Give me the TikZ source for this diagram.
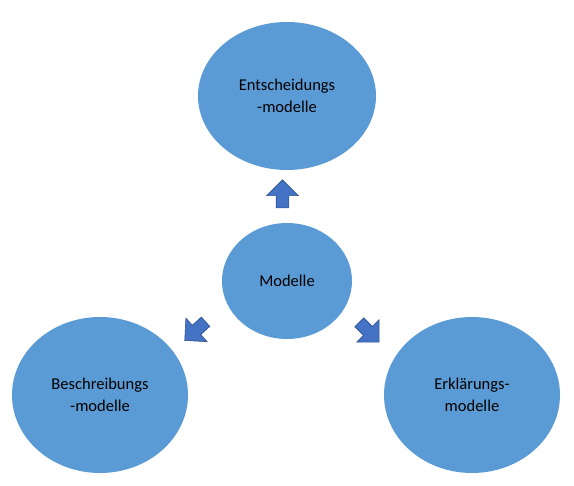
\documentclass[tikz,border=0pt]{standalone}
\usepackage{fontspec}
\setmainfont{Carlito}
\usetikzlibrary{shapes.geometric,shapes.arrows}

\definecolor{ellblue}{HTML}{5B9BD5}
\definecolor{arrblue}{HTML}{4472C4}
\definecolor{arrline}{HTML}{2F528F}

\begin{document}
\begin{tikzpicture}[x=1pt, y=-1pt]
  \tikzstyle{model} = [ellipse, fill=ellblue, inner sep=0pt, text centered,
    align=center, font=\fontsize{16.5}{21.5}\selectfont]
  \tikzstyle{blockarrow} = [single arrow, draw=arrline, fill=arrblue, line width=0.6pt,
    inner xsep=0pt, inner ysep=6pt, minimum width=31pt, minimum height=28pt,
    single arrow head extend=9.5pt, single arrow head indent=0pt]

  \useasboundingbox (0,0) rectangle (574,486);

  % Place nodes
  \node [model, minimum width=130pt, minimum height=116pt] (main) at (287,281) {Modelle};
  \node [model, minimum width=178pt, minimum height=148pt] (decide) at (287,96)
    {Entscheidungs\\-modelle};
  \node [model, minimum width=176pt, minimum height=156pt] (describe) at (100,395)
    {Beschreibungs\\-modelle};
  \node [model, minimum width=176pt, minimum height=156pt] (explain) at (472,395)
    {Erklärungs-\\modelle};

  % Place arrows
  \node [blockarrow, rotate=90] (toup) at (282.5,197) {};
  \node [blockarrow, rotate=222] (toleft) at (197.5,329) {};
  \node [blockarrow, rotate=-45] (toright) at (367,330) {};
\end{tikzpicture}
\end{document}
